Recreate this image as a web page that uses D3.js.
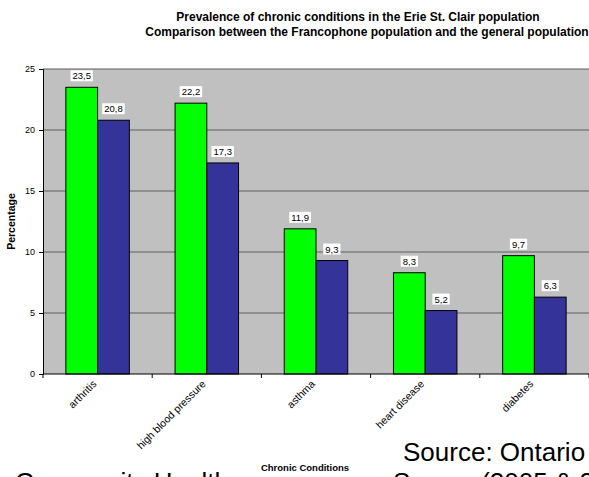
<!DOCTYPE html>
<html>
<head>
<meta charset="utf-8">
<script src="https://cdn.jsdelivr.net/npm/d3@7"></script>
<style>
  body { margin: 0; background: #fff; }
  svg { display: block; font-family: Arial, "Liberation Sans", sans-serif; }
</style>
</head>
<body>
<svg id="chart" width="589" height="477"></svg>
<script>
  // chart data
  var categories = ["arthritis", "high blood pressure", "asthma", "heart disease", "diabetes"];
  var francophone = [23.5, 22.2, 11.9, 8.3, 9.7];
  var general = [20.8, 17.3, 9.3, 5.2, 6.3];
  var yTicks = [0, 5, 10, 15, 20, 25];
  var seriesColors = ["#00ff00", "#333399"];

  var svg = d3.select("svg#chart");

  // plot box (note: "top" is reserved on window, so use a box object)
  var plot = { left: 43, right: 589, top: 69, bottom: 374 };

  var x = d3.scaleBand()
    .domain(categories)
    .range([plot.left, plot.right])
    .paddingInner(0)
    .paddingOuter(0);

  var inner = d3.scaleBand()
    .domain([0, 1])
    .range([0, x.bandwidth()])
    .paddingOuter(0.72)
    .paddingInner(0);

  var y = d3.scaleLinear()
    .domain([0, 25])
    .range([plot.bottom, plot.top]);

  // plot background
  svg.append('rect')
    .attr('x', plot.left)
    .attr('y', plot.top)
    .attr('width', plot.right - plot.left)
    .attr('height', plot.bottom - plot.top)
    .attr('fill', '#c0c0c0');

  // gridlines
  svg.append('g')
    .selectAll('line')
    .data(yTicks.filter(function(d) { return d > 0; }))
    .enter().append('line')
    .attr('x1', plot.left)
    .attr('x2', plot.right)
    .attr('y1', function(d) { return y(d); })
    .attr('y2', function(d) { return y(d); })
    .attr('stroke', '#5f5f5f')
    .attr('stroke-width', 1.2);

  // bars
  var groups = svg.append('g')
    .selectAll('g')
    .data(categories)
    .enter().append('g')
    .attr('transform', function(d) { return `translate(${x(d)},0)`; });

  var series = [francophone, general];

  groups.each(function(cat, i) {
    var g = d3.select(this);
    series.forEach(function(vals, s) {
      var v = vals[i];
      g.append('rect')
        .attr('x', inner(s))
        .attr('y', y(v))
        .attr('width', inner.bandwidth())
        .attr('height', y(0) - y(v))
        .attr('fill', seriesColors[s])
        .attr('stroke', '#000')
        .attr('stroke-width', 1);
    });
  });

  // value labels on white boxes
  groups.each(function(cat, i) {
    var g = d3.select(this);
    series.forEach(function(vals, s) {
      var v = vals[i];
      var cx = inner(s) + inner.bandwidth() / 2;
      var label = v.toFixed(1).replace('.', ',');
      var t = g.append('text')
        .attr('x', cx)
        .attr('y', y(v) - 8)
        .attr('text-anchor', 'middle')
        .style('font-size', '9.5px')
        .style('fill', '#000')
        .text(label);
      var bb = t.node().getBBox();
      g.insert('rect', function() { return t.node(); })
        .attr('x', bb.x - 2)
        .attr('y', y(v) - 17)
        .attr('width', bb.width + 4)
        .attr('height', 11)
        .attr('fill', '#fff');
    });
  });

  // y axis
  var yAxis = svg.append('g')
    .attr('transform', `translate(${plot.left},0)`)
    .call(d3.axisLeft(y).tickValues(yTicks).tickSize(4).tickPadding(4));
  yAxis.select('.domain').attr('stroke', '#000');
  yAxis.selectAll('.tick line').attr('stroke', '#000');
  yAxis.selectAll('text')
    .style('font-size', '9px')
    .style('font-family', 'Arial, "Liberation Sans", sans-serif');

  // x axis: ticks sit on the category boundaries
  var xAxis = svg.append('g')
    .attr('transform', `translate(0,${plot.bottom})`);
  xAxis.append('line')
    .attr('x1', plot.left).attr('x2', plot.right)
    .attr('y1', 0).attr('y2', 0)
    .attr('stroke', '#000');
  xAxis.selectAll('line.tk')
    .data(categories.concat(['end']))
    .enter().append('line')
    .attr('class', 'tk')
    .attr('x1', function(d, i) { return plot.left + i * x.bandwidth(); })
    .attr('x2', function(d, i) { return plot.left + i * x.bandwidth(); })
    .attr('y1', 0).attr('y2', 4)
    .attr('stroke', '#000');
  xAxis.selectAll('text')
    .data(categories)
    .enter().append('text')
    .attr('transform', function(d) { return `translate(${x(d) + x.bandwidth() / 2 - 3},${8}) rotate(-45)`; })
    .attr('text-anchor', 'end')
    .attr('dy', '0.35em')
    .style('font-size', '10.5px')
    .text(function(d) { return d; });

  // titles
  svg.append('text')
    .attr('x', 358).attr('y', 21)
    .attr('text-anchor', 'middle')
    .style('font-size', '12px').style('font-weight', 'bold')
    .text('Prevalence of chronic conditions in the Erie St. Clair population');
  svg.append('text')
    .attr('x', 367).attr('y', 36)
    .attr('text-anchor', 'middle')
    .style('font-size', '12px').style('font-weight', 'bold')
    .text('Comparison between the Francophone population and the general population');

  svg.append('text')
    .attr('transform', `translate(15, ${(plot.top + plot.bottom) / 2}) rotate(-90)`)
    .attr('text-anchor', 'middle')
    .style('font-size', '10.5px').style('font-weight', 'bold')
    .text('Percentage');

  svg.append('text')
    .attr('x', 305).attr('y', 471)
    .attr('text-anchor', 'middle')
    .style('font-size', '9.5px').style('font-weight', 'bold')
    .text('Chronic Conditions');

  // source note (overflows the bottom of the picture, as in the original)
  svg.append('text')
    .attr('x', 403).attr('y', 461)
    .style('font-size', '26px')
    .text('Source: Ontario');
  svg.append('text')
    .attr('x', 15).attr('y', 491)
    .style('font-size', '26px')
    .text('Community Health');
  svg.append('text')
    .attr('x', 393).attr('y', 491)
    .style('font-size', '26px')
    .text('Survey (2005 & 2006)');
</script>
</body>
</html>
